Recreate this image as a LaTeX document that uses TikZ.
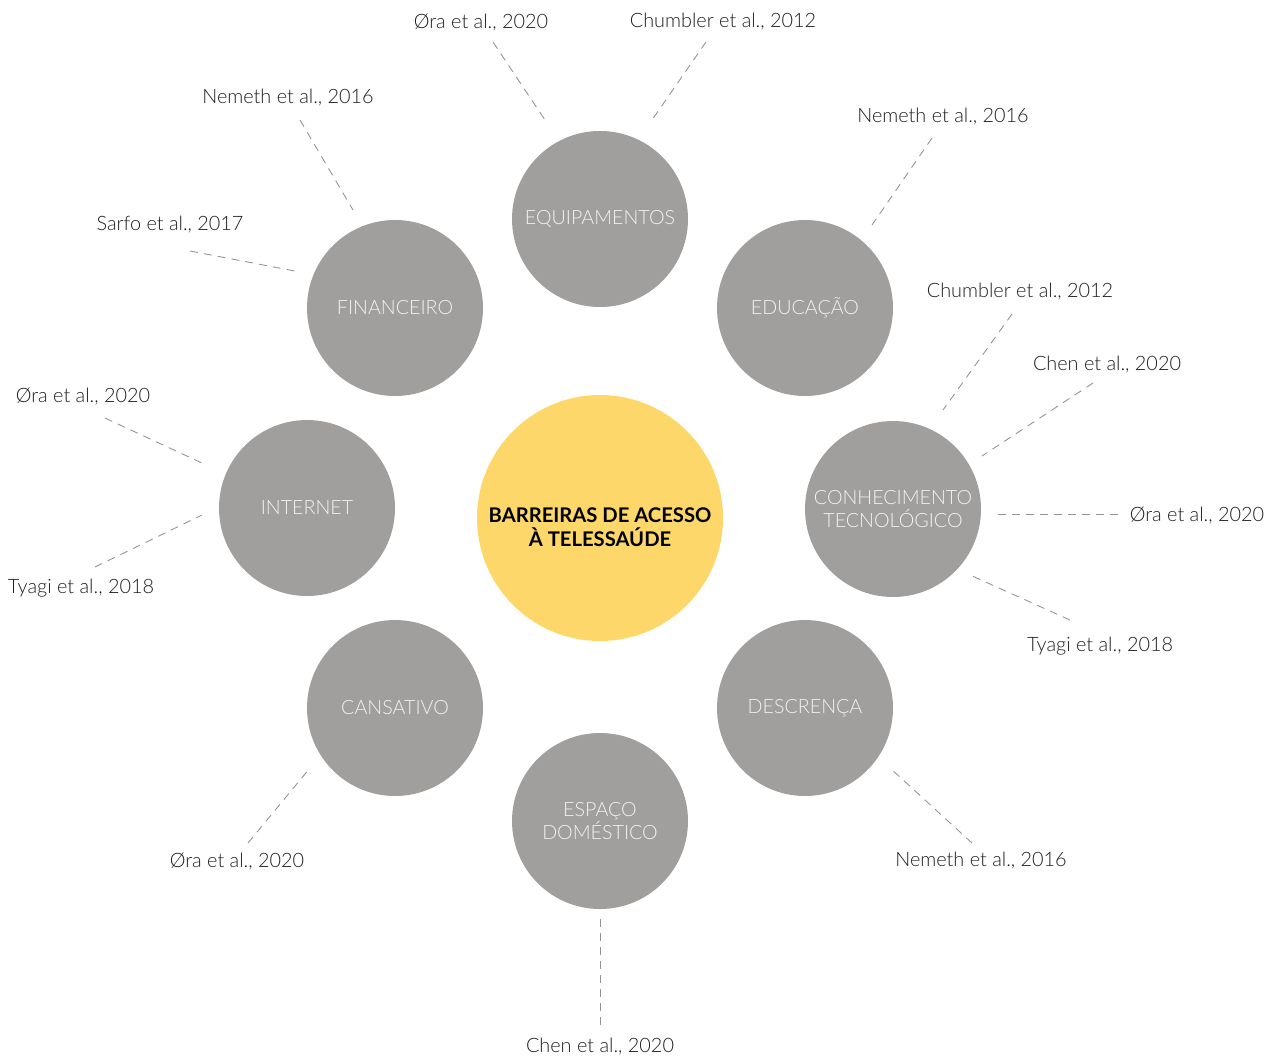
\documentclass[tikz,border=0pt]{standalone}
\usepackage{fontspec}
\setmainfont{Lato}[UprightFont=* Light, BoldFont=* Bold]
\definecolor{bubble}{HTML}{A09F9D}
\definecolor{core}{HTML}{FDD76A}
\definecolor{dashc}{HTML}{939393}
\definecolor{reftext}{HTML}{1E1E1E}
\definecolor{bubtext}{HTML}{F2F2F2}
\begin{document}
\begin{tikzpicture}[x=0.02cm,y=-0.02cm,
  bub/.style={circle,fill=bubble,minimum size=176*0.02cm,inner sep=0pt,text=bubtext,align=center,font=\fontsize{11.2}{13.6}\selectfont},
  corebub/.style={circle,fill=core,minimum size=246*0.02cm,inner sep=0pt,text=black,align=center,font=\bfseries\fontsize{11.5}{13.6}\selectfont},
  refl/.style={text=reftext,inner sep=0pt,font=\fontsize{11.3}{13}\selectfont},
  link/.style={draw=dashc,line width=0.5pt,dash pattern=on 4.5pt off 3.5pt}]
\useasboundingbox (0,0) rectangle (1280,1058);
% bubbles
\node[circle,fill=core,minimum size=246*0.02cm,inner sep=0pt] (core) at (600,518) {};
\node[corebub,fill=none,minimum size=0pt] (coretext) at (600,527) {BARREIRAS DE ACESSO\\À TELESSAÚDE};
\node[bub] (equip) at (600,219) {EQUIPAMENTOS};
\node[bub] (fin) at (395,308) {FINANCEIRO};
\node[bub] (edu) at (805,308) {EDUCAÇÃO};
\node[bub] (inet) at (307,508) {INTERNET};
\node[bub] (conh) at (893,509) {CONHECIMENTO\\TECNOLÓGICO};
\node[bub] (cans) at (395,708) {CANSATIVO};
\node[bub] (desc) at (805,708) {DESCRENÇA};
\node[bub] (esp) at (600,821) {ESPAÇO\\DOMÉSTICO};
% reference labels
\node[refl] (r1) at (481,22) {Øra et al., 2020};
\node[refl] (r2) at (723,22) {Chumbler et al., 2012};
\node[refl] (r3) at (288,98) {Nemeth et al., 2016};
\node[refl] (r4) at (170,225) {Sarfo et al., 2017};
\node[refl] (r5) at (943,117) {Nemeth et al., 2016};
\node[refl] (r6) at (1020,292) {Chumbler et al., 2012};
\node[refl] (r7) at (1107,365) {Chen et al., 2020};
\node[refl] (r8) at (1197,515) {Øra et al., 2020};
\node[refl] (r9) at (1100,646) {Tyagi et al., 2018};
\node[refl] (r10) at (981,861) {Nemeth et al., 2016};
\node[refl] (r11) at (600,1047) {Chen et al., 2020};
\node[refl] (r12) at (237,861) {Øra et al., 2020};
\node[refl] (r13) at (81,588) {Tyagi et al., 2018};
\node[refl] (r14) at (83,396) {Øra et al., 2020};
% connector ends
\coordinate (a1) at (493,42);   \coordinate (b1) at (545,120);
\coordinate (a2) at (706,42);   \coordinate (b2) at (652,120);
\coordinate (a3) at (300,120);  \coordinate (b3) at (353,210);
\coordinate (a4) at (190,251);  \coordinate (b4) at (300,272);
\coordinate (a5) at (932,138);  \coordinate (b5) at (872,225);
\coordinate (a6) at (1012,314); \coordinate (b6) at (943,410);
\coordinate (a7) at (1093,383); \coordinate (b7) at (982,456);
\coordinate (a8) at (1118,514); \coordinate (b8) at (997,514);
\coordinate (a9) at (1070,620); \coordinate (b9) at (970,575);
\coordinate (a10) at (972,843); \coordinate (b10) at (890,768);
\coordinate (a11) at (600,1025);\coordinate (b11) at (600,918);
\coordinate (a12) at (248,843); \coordinate (b12) at (310,768);
\coordinate (a13) at (95,567);  \coordinate (b13) at (202,515);
\coordinate (a14) at (105,418); \coordinate (b14) at (204,464);
\foreach \i in {1,...,14} {\draw[link] (a\i) -- (b\i);}
\end{tikzpicture}
\end{document}
